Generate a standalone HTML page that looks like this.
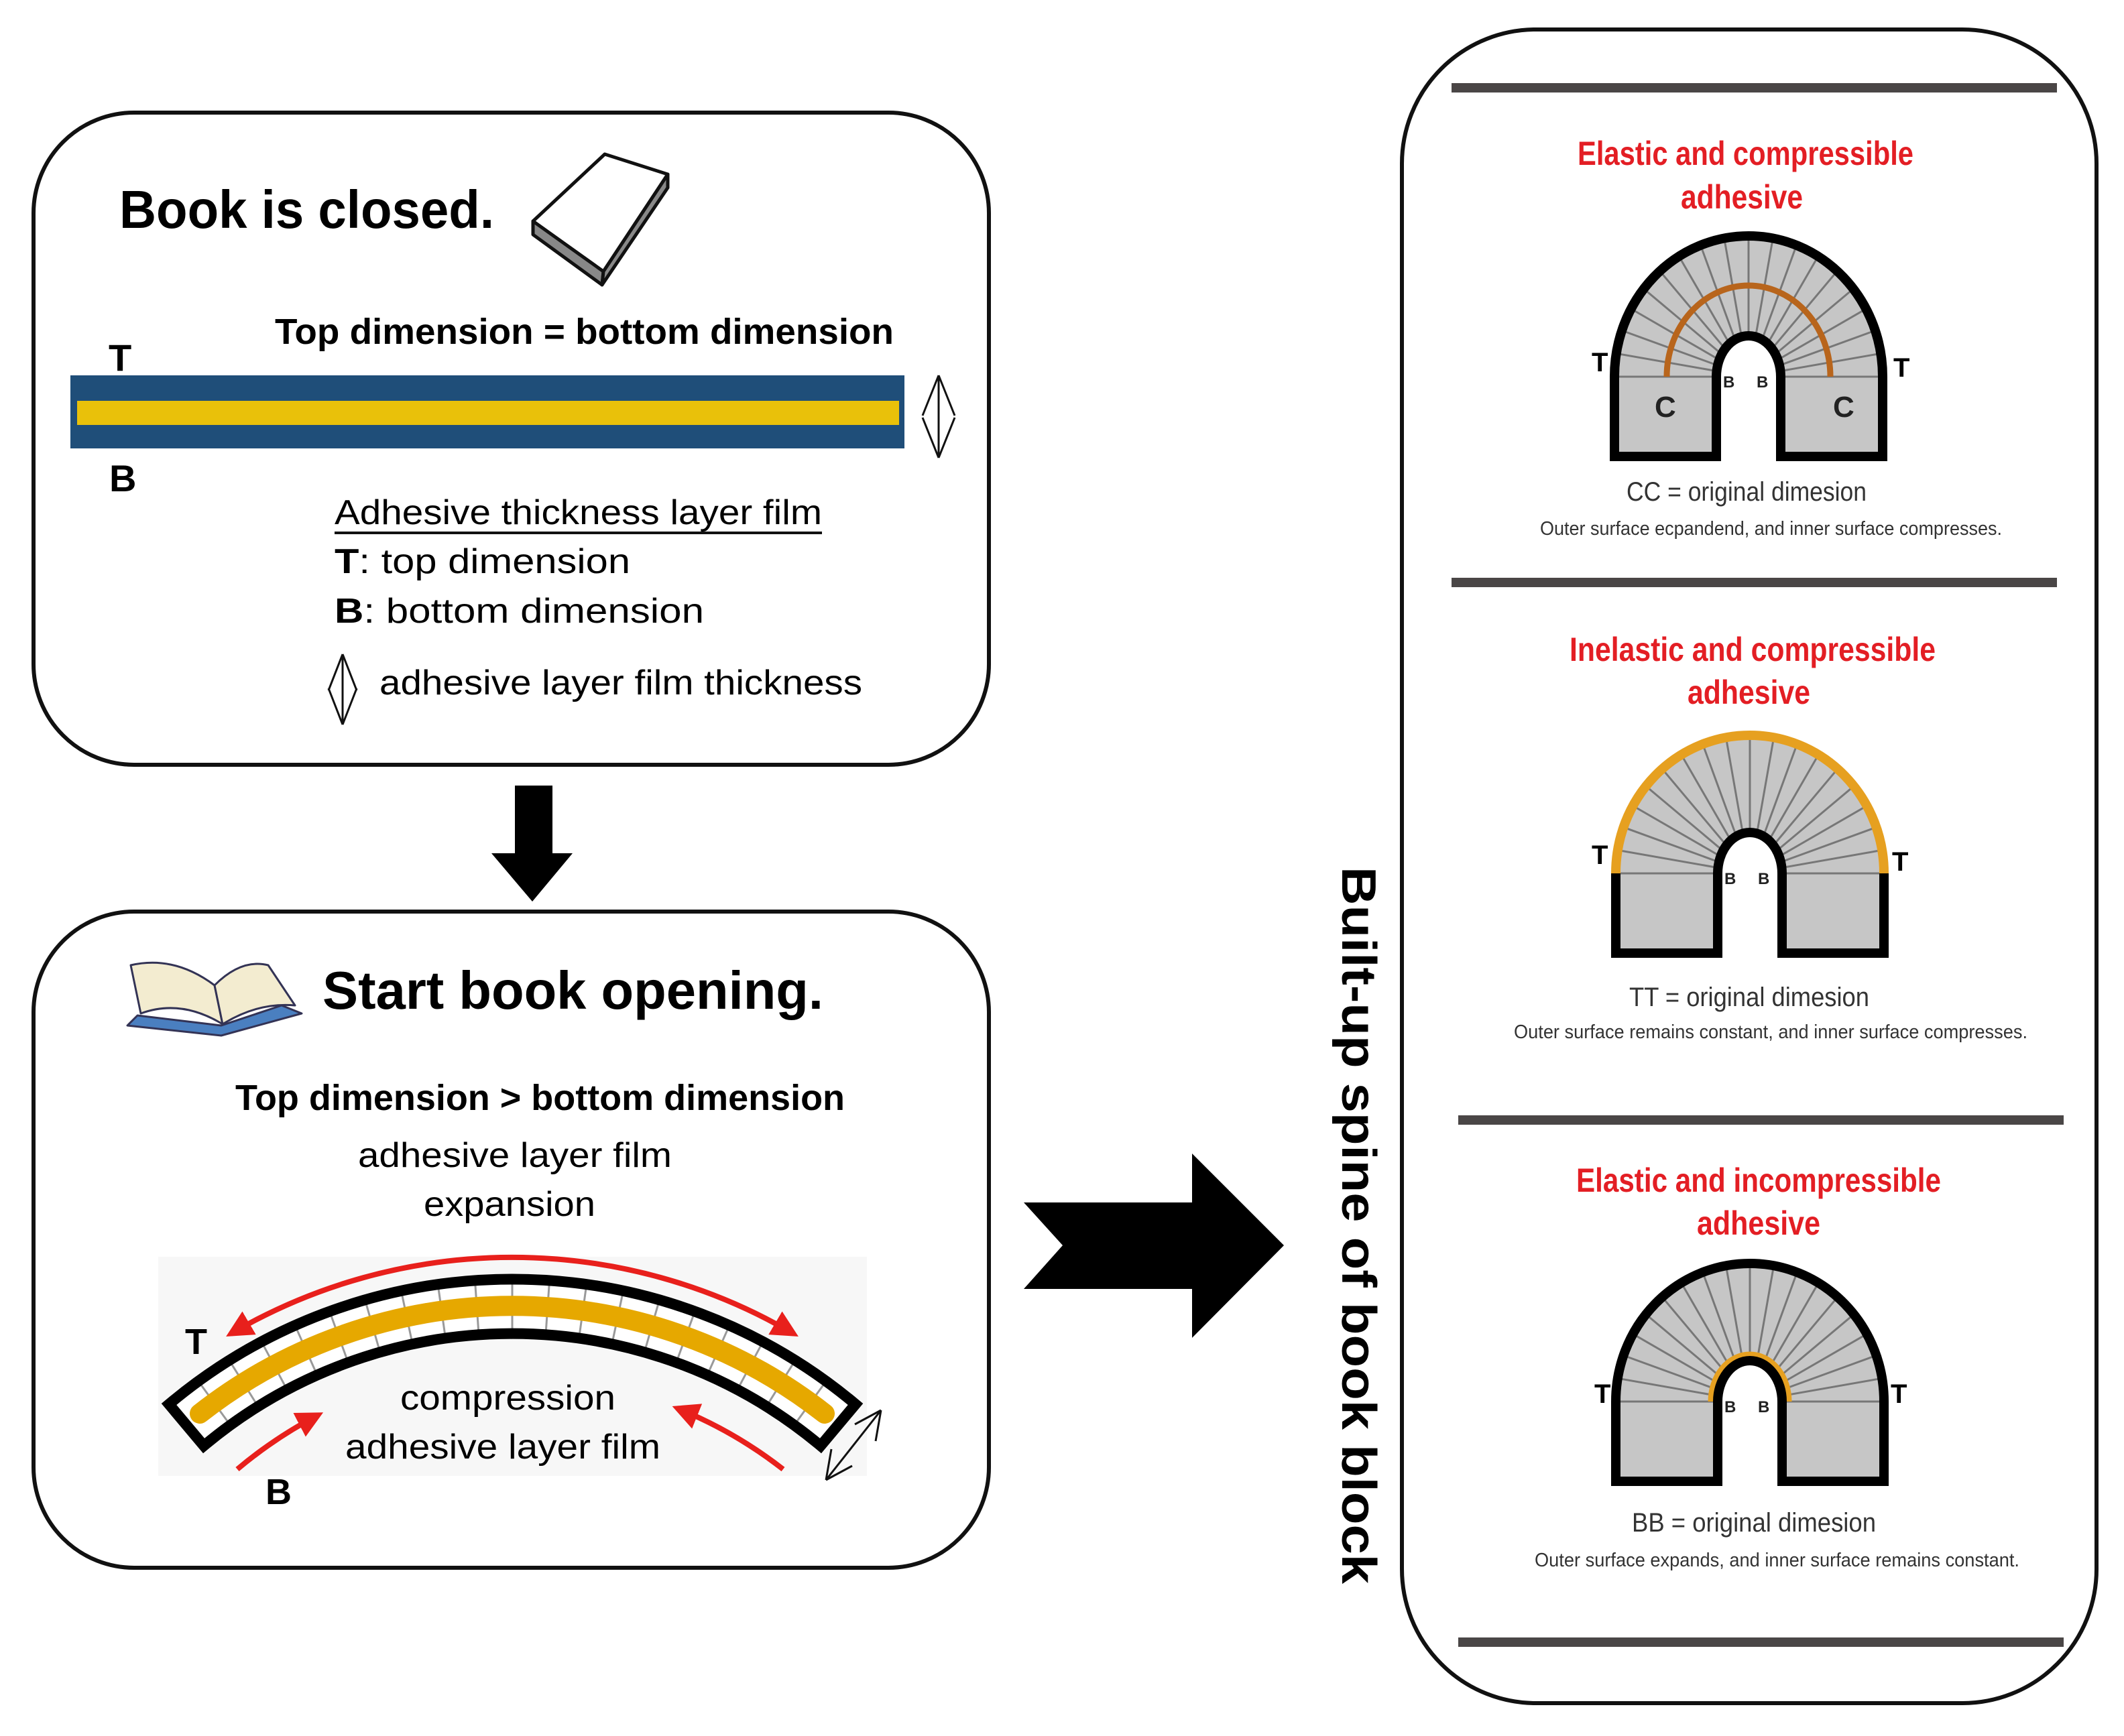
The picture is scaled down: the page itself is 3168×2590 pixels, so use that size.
<!DOCTYPE html>
<html><head><meta charset="utf-8"><style>
html,body{margin:0;padding:0;background:#fff;}
svg{display:block;}
text{font-family:"Liberation Sans",sans-serif;}
</style></head><body>
<svg width="3168" height="2590" viewBox="0 0 3168 2590" xmlns="http://www.w3.org/2000/svg">
<defs>
<marker id="ra" viewBox="0 0 10 10" refX="8" refY="5" markerWidth="5" markerHeight="5" orient="auto-start-reverse"><path d="M0 0L10 5L0 10z" fill="#e8201c"/></marker>
<clipPath id="archclip"><path d="M-200 119 L-200 0 A200 210 0 0 1 200 0 L200 119 L48 119 L48 0 A48 61 0 0 0 -48 0 L-48 119 Z"/></clipPath>
<g id="ticks" stroke="#777" stroke-width="3">
<line x1="0" y1="0" x2="-260" y2="0"/>
<line x1="0" y1="0" x2="-256" y2="-45"/>
<line x1="0" y1="0" x2="-244" y2="-89"/>
<line x1="0" y1="0" x2="-225" y2="-130"/>
<line x1="0" y1="0" x2="-199" y2="-167"/>
<line x1="0" y1="0" x2="-167" y2="-199"/>
<line x1="0" y1="0" x2="-130" y2="-225"/>
<line x1="0" y1="0" x2="-89" y2="-244"/>
<line x1="0" y1="0" x2="-45" y2="-256"/>
<line x1="0" y1="0" x2="0" y2="-260"/>
<line x1="0" y1="0" x2="45" y2="-256"/>
<line x1="0" y1="0" x2="89" y2="-244"/>
<line x1="0" y1="0" x2="130" y2="-225"/>
<line x1="0" y1="0" x2="167" y2="-199"/>
<line x1="0" y1="0" x2="199" y2="-167"/>
<line x1="0" y1="0" x2="225" y2="-130"/>
<line x1="0" y1="0" x2="244" y2="-89"/>
<line x1="0" y1="0" x2="256" y2="-45"/>
<line x1="0" y1="0" x2="260" y2="0"/>
</g>
<g id="archbase">
<path d="M-200 119 L-200 0 A200 210 0 0 1 200 0 L200 119 L48 119 L48 0 A48 61 0 0 0 -48 0 L-48 119 Z" fill="#c6c6c6"/>
<g clip-path="url(#archclip)"><use href="#ticks"/></g>
<line x1="-200" y1="0" x2="-48" y2="0" stroke="#777" stroke-width="3"/>
<line x1="48" y1="0" x2="200" y2="0" stroke="#777" stroke-width="3"/>
</g>
</defs>

<rect x="50" y="168" width="1425" height="973" rx="150" ry="150" fill="#fff" stroke="#111" stroke-width="6"/>
<text x="178" y="340" font-size="80" font-weight="bold" textLength="559" lengthAdjust="spacingAndGlyphs">Book is closed.</text>
<g stroke="#111" stroke-width="5" stroke-linejoin="round">
<path d="M795 330 L902 230 L996 260 L900 405 Z" fill="#fff"/>
<path d="M795 330 L795 350 L898 425 L900 405 Z" fill="#888"/>
<path d="M996 260 L996 280 L898 425 L900 405 Z" fill="#888"/>
</g>
<text x="410" y="513" font-size="54" font-weight="bold" textLength="923" lengthAdjust="spacingAndGlyphs">Top dimension =  bottom dimension</text>
<text x="162" y="553" font-size="56" font-weight="bold">T</text>
<text x="163" y="733" font-size="56" font-weight="bold">B</text>
<rect x="105" y="560" width="1244" height="109" fill="#1f4e79"/>
<rect x="115" y="598" width="1226" height="36" fill="#e9c10a"/>
<path d="M1400 560 L1376 620 M1400 560 L1424 620 M1400 560 L1400 683 M1400 683 L1376 623 M1400 683 L1424 623" stroke="#111" stroke-width="3" fill="none"/>
<text x="499" y="782" font-size="52" textLength="727" lengthAdjust="spacingAndGlyphs">Adhesive thickness layer film</text>
<line x1="499" y1="795" x2="1226" y2="795" stroke="#111" stroke-width="4"/>
<text x="499" y="855" font-size="52" textLength="441" lengthAdjust="spacingAndGlyphs"><tspan font-weight="bold">T</tspan>:  top dimension</text>
<text x="499" y="929" font-size="52" textLength="551" lengthAdjust="spacingAndGlyphs"><tspan font-weight="bold">B</tspan>:  bottom dimension</text>
<path d="M511 976 L490 1030 M511 976 L532 1030 M511 976 L511 1081 M511 1081 L490 1027 M511 1081 L532 1027" stroke="#111" stroke-width="3" fill="none"/>
<text x="566" y="1036" font-size="52" textLength="720" lengthAdjust="spacingAndGlyphs">adhesive layer film thickness</text>

<path d="M768 1172 L824 1172 L824 1273 L854 1273 L794 1345 L733 1273 L768 1273 Z" fill="#000"/>

<rect x="50" y="1360" width="1425" height="979" rx="150" ry="150" fill="#fff" stroke="#111" stroke-width="6"/>
<g stroke="#335" stroke-width="3" stroke-linejoin="round">
<path d="M190 1530 L330 1545 L450 1512 L420 1500 L330 1530 L205 1515 Z" fill="#4a7fc0"/>
<path d="M195 1440 Q260 1425 320 1470 L332 1528 Q270 1490 210 1512 Z" fill="#f3ecd0"/>
<path d="M320 1470 Q360 1430 400 1440 L440 1500 Q385 1495 332 1528 Z" fill="#f3ecd0"/>
</g>
<text x="481" y="1505" font-size="80" font-weight="bold" textLength="747" lengthAdjust="spacingAndGlyphs">Start book opening.</text>
<text x="351" y="1656" font-size="54" font-weight="bold" textLength="909" lengthAdjust="spacingAndGlyphs">Top dimension &gt; bottom dimension</text>
<text x="534" y="1741" font-size="52" textLength="468" lengthAdjust="spacingAndGlyphs">adhesive layer film</text>
<text x="632" y="1814" font-size="52" textLength="256" lengthAdjust="spacingAndGlyphs">expansion</text>
<rect x="236" y="1875" width="1057" height="327" fill="#f7f7f7"/>
<path d="M252 2095 A796 796 0 0 1 1276 2095 L1224 2157 A716 716 0 0 0 304 2157 Z" fill="#fff"/>
<g stroke="#999" stroke-width="3">
<g transform="rotate(-36 764 2705)"><line x1="764" y1="1909" x2="764" y2="1989"/></g>
<g transform="rotate(-32 764 2705)"><line x1="764" y1="1909" x2="764" y2="1989"/></g>
<g transform="rotate(-28 764 2705)"><line x1="764" y1="1909" x2="764" y2="1989"/></g>
<g transform="rotate(-24 764 2705)"><line x1="764" y1="1909" x2="764" y2="1989"/></g>
<g transform="rotate(-20 764 2705)"><line x1="764" y1="1909" x2="764" y2="1989"/></g>
<g transform="rotate(-16 764 2705)"><line x1="764" y1="1909" x2="764" y2="1989"/></g>
<g transform="rotate(-12 764 2705)"><line x1="764" y1="1909" x2="764" y2="1989"/></g>
<g transform="rotate(-8 764 2705)"><line x1="764" y1="1909" x2="764" y2="1989"/></g>
<g transform="rotate(-4 764 2705)"><line x1="764" y1="1909" x2="764" y2="1989"/></g>
<line x1="764" y1="1909" x2="764" y2="1989"/>
<g transform="rotate(4 764 2705)"><line x1="764" y1="1909" x2="764" y2="1989"/></g>
<g transform="rotate(8 764 2705)"><line x1="764" y1="1909" x2="764" y2="1989"/></g>
<g transform="rotate(12 764 2705)"><line x1="764" y1="1909" x2="764" y2="1989"/></g>
<g transform="rotate(16 764 2705)"><line x1="764" y1="1909" x2="764" y2="1989"/></g>
<g transform="rotate(20 764 2705)"><line x1="764" y1="1909" x2="764" y2="1989"/></g>
<g transform="rotate(24 764 2705)"><line x1="764" y1="1909" x2="764" y2="1989"/></g>
<g transform="rotate(28 764 2705)"><line x1="764" y1="1909" x2="764" y2="1989"/></g>
<g transform="rotate(32 764 2705)"><line x1="764" y1="1909" x2="764" y2="1989"/></g>
<g transform="rotate(36 764 2705)"><line x1="764" y1="1909" x2="764" y2="1989"/></g>
</g>
<path d="M298 2109 A756 756 0 0 1 1230 2109" fill="none" stroke="#e6a800" stroke-width="30" stroke-linecap="round"/>
<path d="M252 2095 A796 796 0 0 1 1276 2095 L1224 2157 A716 716 0 0 0 304 2157 Z" fill="none" stroke="#000" stroke-width="16" stroke-linejoin="miter"/>
<path d="M344 1990 A830 830 0 0 1 1184 1990" fill="none" stroke="#e8201c" stroke-width="8" marker-start="url(#ra)" marker-end="url(#ra)"/>
<path d="M354 2192 A660 660 0 0 1 475 2111" fill="none" stroke="#e8201c" stroke-width="8" marker-end="url(#ra)"/>
<path d="M1168 2192 A652 652 0 0 0 1010 2101" fill="none" stroke="#e8201c" stroke-width="8" marker-end="url(#ra)"/>
<text x="276" y="2020" font-size="54" font-weight="bold">T</text>
<text x="396" y="2244" font-size="54" font-weight="bold">B</text>
<text x="597" y="2103" font-size="52" textLength="321" lengthAdjust="spacingAndGlyphs">compression</text>
<text x="515" y="2176" font-size="52" textLength="470" lengthAdjust="spacingAndGlyphs">adhesive layer film</text>
<g stroke="#111" stroke-width="3" fill="none">
<line x1="1232" y1="2208" x2="1314" y2="2104"/>
<path d="M1314 2104 L1306 2150 M1314 2104 L1275 2125"/>
<path d="M1232 2208 L1240 2162 M1232 2208 L1271 2187"/>
</g>

<path d="M1527 1794 L1778 1794 L1778 1721 L1915 1858 L1778 1996 L1778 1923 L1527 1923 L1585 1858 Z" fill="#000"/>

<text transform="translate(2002 1828) rotate(90)" text-anchor="middle" font-size="72" font-weight="bold" textLength="1070" lengthAdjust="spacingAndGlyphs">Built-up spine of book block</text>

<rect x="2091" y="44" width="1036" height="2497" rx="200" ry="200" fill="#fff" stroke="#111" stroke-width="6"/>
<g fill="#4a4646">
<rect x="2165" y="124" width="903" height="14"/>
<rect x="2165" y="862" width="903" height="14"/>
<rect x="2175" y="1664" width="903" height="14"/>
<rect x="2175" y="2443" width="903" height="14"/>
</g>

<g fill="#e31e24" font-weight="bold" font-size="50">
<text x="2353" y="246" textLength="501" lengthAdjust="spacingAndGlyphs">Elastic and compressible</text>
<text x="2507" y="311" textLength="182" lengthAdjust="spacingAndGlyphs">adhesive</text>
<text x="2341" y="986" textLength="546" lengthAdjust="spacingAndGlyphs">Inelastic and compressible</text>
<text x="2517" y="1050" textLength="183" lengthAdjust="spacingAndGlyphs">adhesive</text>
<text x="2351" y="1778" textLength="544" lengthAdjust="spacingAndGlyphs">Elastic and incompressible</text>
<text x="2531" y="1842" textLength="184" lengthAdjust="spacingAndGlyphs">adhesive</text>
</g>

<g transform="translate(2608 562)">
<use href="#archbase"/>
<path d="M-122 0 A122 136 0 0 1 122 0" fill="none" stroke="#b8651c" stroke-width="9"/>
<path d="M-200 119 L-200 0 A200 210 0 0 1 200 0 L200 119 L48 119 L48 0 A48 61 0 0 0 -48 0 L-48 119 Z" fill="none" stroke="#000" stroke-width="14"/>
<text x="-234" y="-8" font-size="40" font-weight="bold">T</text>
<text x="216" y="0" font-size="40" font-weight="bold">T</text>
<text x="-140" y="60" font-size="44" font-weight="bold" fill="#222">C</text>
<text x="126" y="60" font-size="44" font-weight="bold" fill="#222">C</text>
<text x="-38" y="16" font-size="24" font-weight="bold" fill="#222">B</text>
<text x="12" y="16" font-size="24" font-weight="bold" fill="#222">B</text>
</g>
<text x="2426" y="747" font-size="40" fill="#333" textLength="358" lengthAdjust="spacingAndGlyphs">CC = original dimesion</text>
<text x="2297" y="798" font-size="29" fill="#333" textLength="689" lengthAdjust="spacingAndGlyphs">Outer surface ecpandend, and inner surface compresses.</text>

<g transform="translate(2610 1303)">
<use href="#archbase"/>
<path d="M-200 0 A200 206 0 0 1 200 0" fill="none" stroke="#e6a020" stroke-width="14"/>
<path d="M-200 0 L-200 119 L-48 119 L-48 0 A48 61 0 0 1 48 0 L48 119 L200 119 L200 0" fill="none" stroke="#000" stroke-width="14"/>
<text x="-236" y="-14" font-size="40" font-weight="bold">T</text>
<text x="212" y="-4" font-size="40" font-weight="bold">T</text>
<text x="-38" y="16" font-size="24" font-weight="bold" fill="#222">B</text>
<text x="12" y="16" font-size="24" font-weight="bold" fill="#222">B</text>
</g>
<text x="2430" y="1501" font-size="40" fill="#333" textLength="358" lengthAdjust="spacingAndGlyphs">TT = original dimesion</text>
<text x="2258" y="1549" font-size="29" fill="#333" textLength="766" lengthAdjust="spacingAndGlyphs">Outer surface remains constant, and inner surface compresses.</text>

<g transform="translate(2610 2091)">
<use href="#archbase"/>
<path d="M-58 0 A58 70 0 0 1 58 0" fill="none" stroke="#e6a020" stroke-width="9"/>
<path d="M-200 119 L-200 0 A200 206 0 0 1 200 0 L200 119 L48 119 L48 0 A48 61 0 0 0 -48 0 L-48 119 Z" fill="none" stroke="#000" stroke-width="14"/>
<text x="-232" y="2" font-size="40" font-weight="bold">T</text>
<text x="210" y="2" font-size="40" font-weight="bold">T</text>
<text x="-38" y="16" font-size="24" font-weight="bold" fill="#222">B</text>
<text x="12" y="16" font-size="24" font-weight="bold" fill="#222">B</text>
</g>
<text x="2434" y="2285" font-size="40" fill="#333" textLength="364" lengthAdjust="spacingAndGlyphs">BB = original dimesion</text>
<text x="2289" y="2337" font-size="29" fill="#333" textLength="723" lengthAdjust="spacingAndGlyphs">Outer surface expands, and inner surface remains constant.</text>
</svg>
</body></html>
